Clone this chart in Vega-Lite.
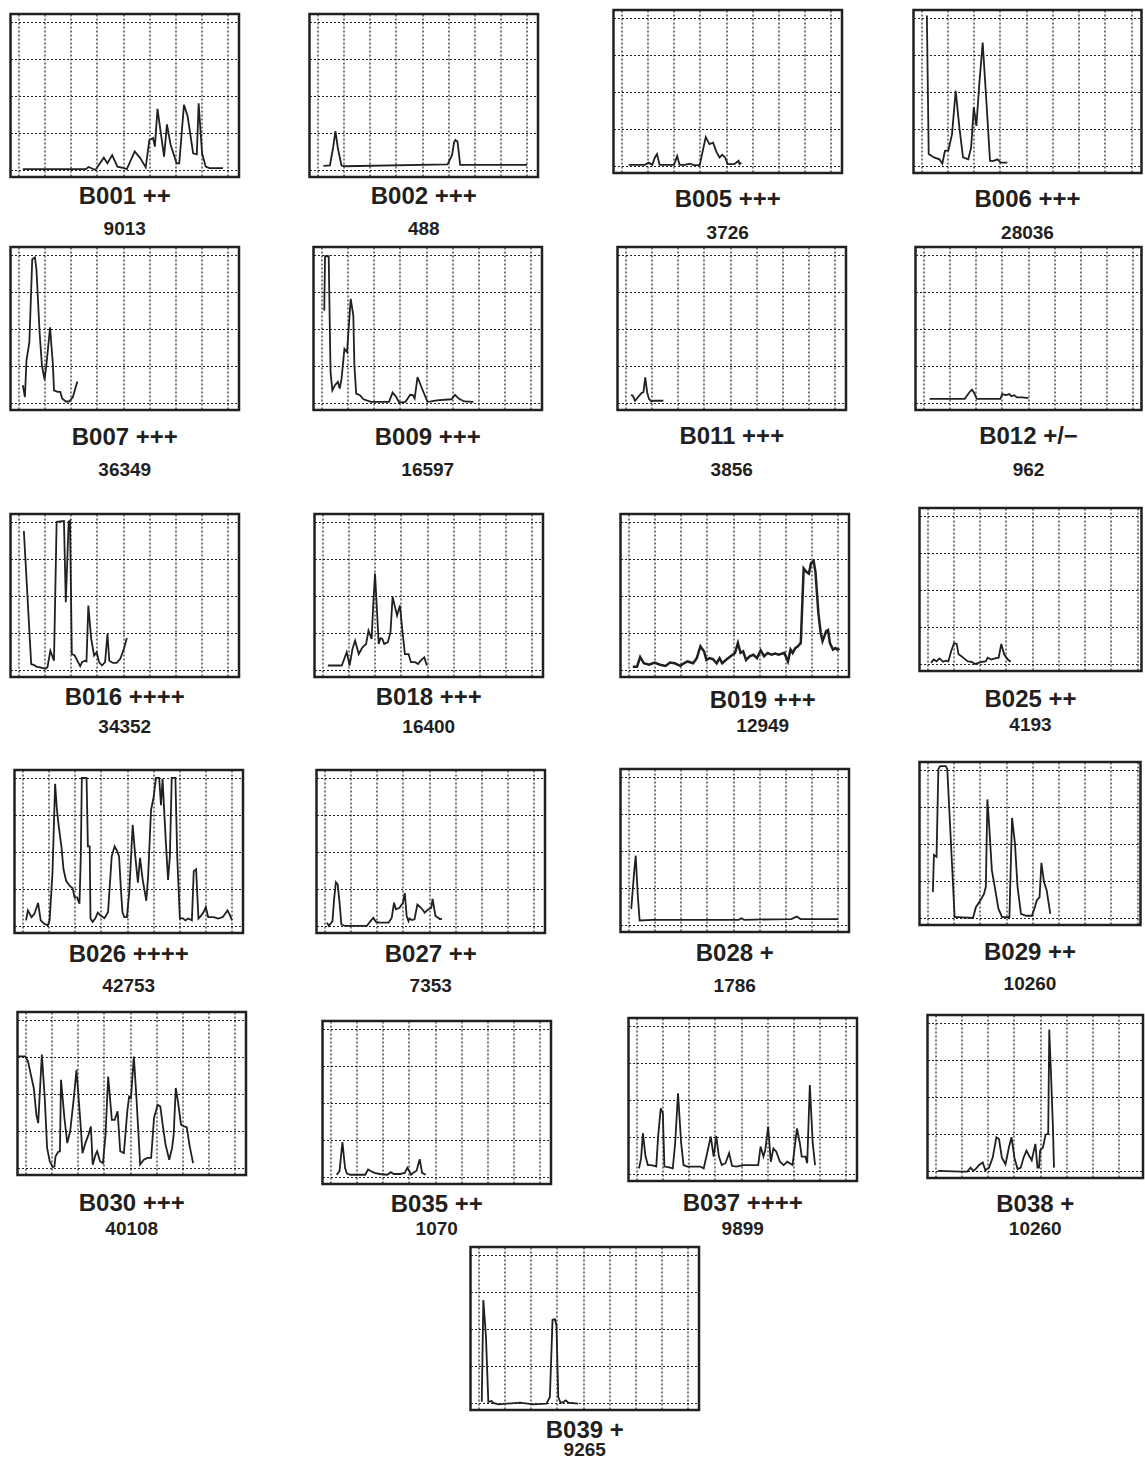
{
"$schema": "https://vega.github.io/schema/vega-lite/v6.json",
"background": "white",
"padding": {"left": 8.5, "top": 8, "right": 0, "bottom": 0},
"config": {
  "view": {"stroke": "#231f20", "strokeWidth": 2.5},
  "axis": {"grid": true, "gridColor": "#231f20", "gridDash": [2, 2], "gridWidth": 1.2, "gridOpacity": 1, "domain": false, "ticks": false, "labels": false, "minExtent": 0, "maxExtent": 0},
  "title": {"orient": "bottom", "anchor": "middle", "font": "Liberation Sans", "fontSize": 24, "fontWeight": "bold", "color": "#231f20", "subtitleFont": "Liberation Sans", "subtitleFontSize": 19, "subtitleFontWeight": "bold", "subtitleColor": "#231f20"},
  "line": {"color": "#231f20", "strokeWidth": 1.8, "clip": true}
},
"data": {"values": [
{"p":"B001","x":0.17,"y":0.02},{"p":"B001","x":2.57,"y":0.02},{"p":"B001","x":2.68,"y":0.08},{"p":"B001","x":2.94,"y":0.0},{"p":"B001","x":3.26,"y":0.33},{"p":"B001","x":3.4,"y":0.18},{"p":"B001","x":3.58,"y":0.4},{"p":"B001","x":3.78,"y":0.09},{"p":"B001","x":4.03,"y":0.05},{"p":"B001","x":4.14,"y":0.02},{"p":"B001","x":4.44,"y":0.5},{"p":"B001","x":4.65,"y":0.32},{"p":"B001","x":4.86,"y":0.07},{"p":"B001","x":5.0,"y":0.81},{"p":"B001","x":5.14,"y":0.86},{"p":"B001","x":5.21,"y":0.63},{"p":"B001","x":5.31,"y":1.65},{"p":"B001","x":5.56,"y":0.36},{"p":"B001","x":5.67,"y":1.23},{"p":"B001","x":5.81,"y":0.68},{"p":"B001","x":6.04,"y":0.18},{"p":"B001","x":6.14,"y":0.18},{"p":"B001","x":6.32,"y":1.76},{"p":"B001","x":6.46,"y":1.45},{"p":"B001","x":6.67,"y":0.45},{"p":"B001","x":6.81,"y":0.42},{"p":"B001","x":6.88,"y":1.8},{"p":"B001","x":7.01,"y":0.45},{"p":"B001","x":7.15,"y":0.09},{"p":"B001","x":7.29,"y":0.05},{"p":"B001","x":7.81,"y":0.05},
{"p":"B002","x":0.23,"y":0.11},{"p":"B002","x":0.48,"y":0.12},{"p":"B002","x":0.6,"y":0.6},{"p":"B002","x":0.69,"y":1.05},{"p":"B002","x":0.78,"y":0.6},{"p":"B002","x":0.92,"y":0.12},{"p":"B002","x":1.03,"y":0.1},{"p":"B002","x":4.97,"y":0.15},{"p":"B002","x":5.14,"y":0.4},{"p":"B002","x":5.22,"y":0.75},{"p":"B002","x":5.27,"y":0.81},{"p":"B002","x":5.35,"y":0.76},{"p":"B002","x":5.45,"y":0.14},{"p":"B002","x":8.0,"y":0.14},
{"p":"B005","x":0.28,"y":0.03},{"p":"B005","x":0.9,"y":0.03},{"p":"B005","x":1.04,"y":0.09},{"p":"B005","x":1.18,"y":0.03},{"p":"B005","x":1.28,"y":0.23},{"p":"B005","x":1.36,"y":0.32},{"p":"B005","x":1.46,"y":0.03},{"p":"B005","x":2.01,"y":0.03},{"p":"B005","x":2.13,"y":0.27},{"p":"B005","x":2.22,"y":0.03},{"p":"B005","x":2.43,"y":0.03},{"p":"B005","x":2.61,"y":0.06},{"p":"B005","x":2.78,"y":0.02},{"p":"B005","x":2.99,"y":0.02},{"p":"B005","x":3.08,"y":0.32},{"p":"B005","x":3.22,"y":0.78},{"p":"B005","x":3.36,"y":0.59},{"p":"B005","x":3.5,"y":0.63},{"p":"B005","x":3.64,"y":0.36},{"p":"B005","x":3.75,"y":0.23},{"p":"B005","x":3.85,"y":0.3},{"p":"B005","x":3.96,"y":0.23},{"p":"B005","x":4.06,"y":0.05},{"p":"B005","x":4.31,"y":0.05},{"p":"B005","x":4.47,"y":0.14},{"p":"B005","x":4.51,"y":0.05},{"p":"B005","x":4.58,"y":0.09},
{"p":"B006","x":0.21,"y":4.06},{"p":"B006","x":0.28,"y":0.32},{"p":"B006","x":0.48,"y":0.23},{"p":"B006","x":0.69,"y":0.18},{"p":"B006","x":0.8,"y":0.06},{"p":"B006","x":0.9,"y":0.41},{"p":"B006","x":1.03,"y":0.42},{"p":"B006","x":1.17,"y":0.86},{"p":"B006","x":1.31,"y":2.03},{"p":"B006","x":1.45,"y":1.04},{"p":"B006","x":1.59,"y":0.23},{"p":"B006","x":1.79,"y":0.18},{"p":"B006","x":1.9,"y":0.5},{"p":"B006","x":2.0,"y":1.58},{"p":"B006","x":2.1,"y":1.08},{"p":"B006","x":2.21,"y":2.21},{"p":"B006","x":2.34,"y":3.33},{"p":"B006","x":2.48,"y":1.76},{"p":"B006","x":2.62,"y":0.14},{"p":"B006","x":2.76,"y":0.14},{"p":"B006","x":2.9,"y":0.18},{"p":"B006","x":3.03,"y":0.09},{"p":"B006","x":3.28,"y":0.09},
{"p":"B007","x":0.17,"y":0.48},{"p":"B007","x":0.25,"y":0.16},{"p":"B007","x":0.31,"y":1.15},{"p":"B007","x":0.42,"y":1.64},{"p":"B007","x":0.53,"y":3.88},{"p":"B007","x":0.63,"y":3.93},{"p":"B007","x":0.69,"y":3.61},{"p":"B007","x":0.81,"y":1.91},{"p":"B007","x":0.9,"y":1.01},{"p":"B007","x":1.0,"y":0.63},{"p":"B007","x":1.08,"y":1.1},{"p":"B007","x":1.21,"y":2.04},{"p":"B007","x":1.32,"y":1.01},{"p":"B007","x":1.36,"y":0.34},{"p":"B007","x":1.5,"y":0.3},{"p":"B007","x":1.6,"y":0.3},{"p":"B007","x":1.67,"y":0.12},{"p":"B007","x":1.81,"y":0.04},{"p":"B007","x":1.94,"y":0.04},{"p":"B007","x":2.08,"y":0.16},{"p":"B007","x":2.25,"y":0.58},
{"p":"B009","x":0.11,"y":2.49},{"p":"B009","x":0.14,"y":3.96},{"p":"B009","x":0.28,"y":3.96},{"p":"B009","x":0.35,"y":0.83},{"p":"B009","x":0.42,"y":0.34},{"p":"B009","x":0.52,"y":0.48},{"p":"B009","x":0.63,"y":0.57},{"p":"B009","x":0.7,"y":0.39},{"p":"B009","x":0.77,"y":0.65},{"p":"B009","x":0.88,"y":1.46},{"p":"B009","x":0.98,"y":1.37},{"p":"B009","x":1.12,"y":2.81},{"p":"B009","x":1.22,"y":2.36},{"p":"B009","x":1.26,"y":1.01},{"p":"B009","x":1.33,"y":0.25},{"p":"B009","x":1.47,"y":0.21},{"p":"B009","x":1.61,"y":0.1},{"p":"B009","x":1.89,"y":0.03},{"p":"B009","x":2.58,"y":0.03},{"p":"B009","x":2.72,"y":0.28},{"p":"B009","x":2.86,"y":0.16},{"p":"B009","x":2.97,"y":0.01},{"p":"B009","x":3.21,"y":0.03},{"p":"B009","x":3.39,"y":0.22},{"p":"B009","x":3.49,"y":0.21},{"p":"B009","x":3.56,"y":0.12},{"p":"B009","x":3.67,"y":0.7},{"p":"B009","x":3.84,"y":0.39},{"p":"B009","x":4.05,"y":0.03},{"p":"B009","x":4.19,"y":0.04},{"p":"B009","x":4.4,"y":0.07},{"p":"B009","x":4.96,"y":0.1},{"p":"B009","x":5.1,"y":0.22},{"p":"B009","x":5.24,"y":0.12},{"p":"B009","x":5.45,"y":0.04},{"p":"B009","x":5.8,"y":0.03},
{"p":"B011","x":0.21,"y":0.21},{"p":"B011","x":0.28,"y":0.2},{"p":"B011","x":0.37,"y":0.06},{"p":"B011","x":0.51,"y":0.18},{"p":"B011","x":0.62,"y":0.27},{"p":"B011","x":0.69,"y":0.29},{"p":"B011","x":0.76,"y":0.69},{"p":"B011","x":0.83,"y":0.29},{"p":"B011","x":0.9,"y":0.11},{"p":"B011","x":0.99,"y":0.04},{"p":"B011","x":1.1,"y":0.06},{"p":"B011","x":1.45,"y":0.06},
{"p":"B012","x":0.24,"y":0.11},{"p":"B012","x":1.58,"y":0.11},{"p":"B012","x":1.76,"y":0.29},{"p":"B012","x":1.86,"y":0.36},{"p":"B012","x":1.94,"y":0.27},{"p":"B012","x":2.04,"y":0.11},{"p":"B012","x":2.94,"y":0.11},{"p":"B012","x":3.01,"y":0.24},{"p":"B012","x":3.15,"y":0.21},{"p":"B012","x":3.29,"y":0.24},{"p":"B012","x":3.36,"y":0.18},{"p":"B012","x":3.47,"y":0.21},{"p":"B012","x":3.57,"y":0.15},{"p":"B012","x":3.78,"y":0.15},{"p":"B012","x":4.01,"y":0.13},
{"p":"B016","x":0.21,"y":3.75},{"p":"B016","x":0.49,"y":0.16},{"p":"B016","x":0.58,"y":0.14},{"p":"B016","x":0.69,"y":0.09},{"p":"B016","x":0.83,"y":0.07},{"p":"B016","x":1.04,"y":0.03},{"p":"B016","x":1.11,"y":0.07},{"p":"B016","x":1.22,"y":0.52},{"p":"B016","x":1.36,"y":0.25},{"p":"B016","x":1.46,"y":4.0},{"p":"B016","x":1.74,"y":4.02},{"p":"B016","x":1.81,"y":1.83},{"p":"B016","x":1.92,"y":4.0},{"p":"B016","x":1.97,"y":4.03},{"p":"B016","x":2.04,"y":0.43},{"p":"B016","x":2.15,"y":0.39},{"p":"B016","x":2.25,"y":0.25},{"p":"B016","x":2.36,"y":0.1},{"p":"B016","x":2.43,"y":0.21},{"p":"B016","x":2.53,"y":0.25},{"p":"B016","x":2.6,"y":0.23},{"p":"B016","x":2.67,"y":1.74},{"p":"B016","x":2.78,"y":0.84},{"p":"B016","x":2.89,"y":0.39},{"p":"B016","x":2.99,"y":0.48},{"p":"B016","x":3.08,"y":0.21},{"p":"B016","x":3.19,"y":0.12},{"p":"B016","x":3.31,"y":0.21},{"p":"B016","x":3.4,"y":0.97},{"p":"B016","x":3.47,"y":0.25},{"p":"B016","x":3.61,"y":0.19},{"p":"B016","x":3.75,"y":0.19},{"p":"B016","x":3.89,"y":0.3},{"p":"B016","x":4.03,"y":0.57},{"p":"B016","x":4.14,"y":0.86},
{"p":"B018","x":0.21,"y":0.12},{"p":"B018","x":0.74,"y":0.12},{"p":"B018","x":0.93,"y":0.48},{"p":"B018","x":1.04,"y":0.12},{"p":"B018","x":1.15,"y":0.57},{"p":"B018","x":1.25,"y":0.79},{"p":"B018","x":1.39,"y":0.43},{"p":"B018","x":1.53,"y":0.61},{"p":"B018","x":1.67,"y":0.7},{"p":"B018","x":1.76,"y":1.06},{"p":"B018","x":1.88,"y":0.84},{"p":"B018","x":1.94,"y":1.74},{"p":"B018","x":2.01,"y":2.6},{"p":"B018","x":2.15,"y":0.7},{"p":"B018","x":2.22,"y":0.86},{"p":"B018","x":2.29,"y":0.84},{"p":"B018","x":2.36,"y":0.7},{"p":"B018","x":2.5,"y":0.75},{"p":"B018","x":2.6,"y":1.02},{"p":"B018","x":2.68,"y":1.97},{"p":"B018","x":2.85,"y":1.47},{"p":"B018","x":2.96,"y":1.74},{"p":"B018","x":3.06,"y":1.02},{"p":"B018","x":3.15,"y":0.43},{"p":"B018","x":3.29,"y":0.43},{"p":"B018","x":3.38,"y":0.21},{"p":"B018","x":3.54,"y":0.21},{"p":"B018","x":3.65,"y":0.16},{"p":"B018","x":3.75,"y":0.25},{"p":"B018","x":3.89,"y":0.34},{"p":"B018","x":3.99,"y":0.12},
{"p":"B019","x":0.17,"y":0.09},{"p":"B019","x":0.33,"y":0.09},{"p":"B019","x":0.45,"y":0.35},{"p":"B019","x":0.59,"y":0.18},{"p":"B019","x":0.79,"y":0.14},{"p":"B019","x":1.0,"y":0.2},{"p":"B019","x":1.21,"y":0.14},{"p":"B019","x":1.42,"y":0.11},{"p":"B019","x":1.59,"y":0.2},{"p":"B019","x":1.77,"y":0.18},{"p":"B019","x":1.98,"y":0.11},{"p":"B019","x":2.12,"y":0.18},{"p":"B019","x":2.26,"y":0.23},{"p":"B019","x":2.47,"y":0.18},{"p":"B019","x":2.61,"y":0.32},{"p":"B019","x":2.75,"y":0.64},{"p":"B019","x":2.89,"y":0.5},{"p":"B019","x":2.98,"y":0.27},{"p":"B019","x":3.09,"y":0.32},{"p":"B019","x":3.23,"y":0.29},{"p":"B019","x":3.37,"y":0.18},{"p":"B019","x":3.48,"y":0.32},{"p":"B019","x":3.58,"y":0.18},{"p":"B019","x":3.72,"y":0.27},{"p":"B019","x":3.9,"y":0.37},{"p":"B019","x":4.07,"y":0.46},{"p":"B019","x":4.18,"y":0.73},{"p":"B019","x":4.28,"y":0.46},{"p":"B019","x":4.38,"y":0.5},{"p":"B019","x":4.49,"y":0.27},{"p":"B019","x":4.63,"y":0.37},{"p":"B019","x":4.77,"y":0.41},{"p":"B019","x":4.91,"y":0.32},{"p":"B019","x":5.05,"y":0.53},{"p":"B019","x":5.18,"y":0.37},{"p":"B019","x":5.32,"y":0.46},{"p":"B019","x":5.46,"y":0.41},{"p":"B019","x":5.6,"y":0.44},{"p":"B019","x":5.74,"y":0.41},{"p":"B019","x":5.95,"y":0.46},{"p":"B019","x":6.09,"y":0.23},{"p":"B019","x":6.19,"y":0.55},{"p":"B019","x":6.27,"y":0.46},{"p":"B019","x":6.37,"y":0.59},{"p":"B019","x":6.47,"y":0.64},{"p":"B019","x":6.58,"y":0.73},{"p":"B019","x":6.69,"y":2.74},{"p":"B019","x":6.79,"y":2.65},{"p":"B019","x":6.89,"y":2.6},{"p":"B019","x":6.97,"y":2.88},{"p":"B019","x":7.07,"y":2.94},{"p":"B019","x":7.14,"y":2.65},{"p":"B019","x":7.25,"y":1.55},{"p":"B019","x":7.34,"y":1.0},{"p":"B019","x":7.41,"y":0.78},{"p":"B019","x":7.55,"y":1.05},{"p":"B019","x":7.62,"y":1.08},{"p":"B019","x":7.69,"y":0.73},{"p":"B019","x":7.81,"y":0.55},{"p":"B019","x":7.9,"y":0.59},{"p":"B019","x":7.97,"y":0.55},{"p":"B019","x":8.06,"y":0.57},
{"p":"B025","x":0.14,"y":0.03},{"p":"B025","x":0.24,"y":0.12},{"p":"B025","x":0.35,"y":0.07},{"p":"B025","x":0.46,"y":0.15},{"p":"B025","x":0.6,"y":0.06},{"p":"B025","x":0.7,"y":0.09},{"p":"B025","x":0.8,"y":0.07},{"p":"B025","x":0.91,"y":0.35},{"p":"B025","x":1.02,"y":0.56},{"p":"B025","x":1.12,"y":0.54},{"p":"B025","x":1.19,"y":0.26},{"p":"B025","x":1.3,"y":0.21},{"p":"B025","x":1.4,"y":0.15},{"p":"B025","x":1.54,"y":0.07},{"p":"B025","x":1.68,"y":0.06},{"p":"B025","x":1.82,"y":0.0},{"p":"B025","x":1.96,"y":0.03},{"p":"B025","x":2.09,"y":0.06},{"p":"B025","x":2.23,"y":0.07},{"p":"B025","x":2.3,"y":0.17},{"p":"B025","x":2.44,"y":0.12},{"p":"B025","x":2.58,"y":0.15},{"p":"B025","x":2.72,"y":0.17},{"p":"B025","x":2.82,"y":0.54},{"p":"B025","x":2.93,"y":0.26},{"p":"B025","x":3.07,"y":0.12},{"p":"B025","x":3.18,"y":0.06},
{"p":"B026","x":0.14,"y":0.15},{"p":"B026","x":0.21,"y":0.42},{"p":"B026","x":0.35,"y":0.24},{"p":"B026","x":0.46,"y":0.33},{"p":"B026","x":0.6,"y":0.62},{"p":"B026","x":0.7,"y":0.15},{"p":"B026","x":0.83,"y":0.06},{"p":"B026","x":0.97,"y":0.02},{"p":"B026","x":1.04,"y":0.15},{"p":"B026","x":1.15,"y":1.44},{"p":"B026","x":1.25,"y":3.84},{"p":"B026","x":1.32,"y":3.13},{"p":"B026","x":1.39,"y":2.68},{"p":"B026","x":1.49,"y":2.15},{"p":"B026","x":1.57,"y":1.53},{"p":"B026","x":1.67,"y":1.22},{"p":"B026","x":1.81,"y":1.08},{"p":"B026","x":1.92,"y":1.02},{"p":"B026","x":1.99,"y":0.77},{"p":"B026","x":2.09,"y":0.77},{"p":"B026","x":2.18,"y":0.6},{"p":"B026","x":2.23,"y":1.88},{"p":"B026","x":2.27,"y":4.0},{"p":"B026","x":2.45,"y":4.0},{"p":"B026","x":2.5,"y":2.15},{"p":"B026","x":2.57,"y":2.15},{"p":"B026","x":2.6,"y":0.2},{"p":"B026","x":2.68,"y":0.11},{"p":"B026","x":2.78,"y":0.2},{"p":"B026","x":2.88,"y":0.36},{"p":"B026","x":2.99,"y":0.28},{"p":"B026","x":3.13,"y":0.21},{"p":"B026","x":3.27,"y":0.37},{"p":"B026","x":3.41,"y":1.88},{"p":"B026","x":3.52,"y":2.15},{"p":"B026","x":3.62,"y":2.02},{"p":"B026","x":3.69,"y":1.88},{"p":"B026","x":3.76,"y":1.0},{"p":"B026","x":3.82,"y":0.37},{"p":"B026","x":3.89,"y":0.24},{"p":"B026","x":3.99,"y":0.24},{"p":"B026","x":4.08,"y":0.91},{"p":"B026","x":4.21,"y":2.73},{"p":"B026","x":4.31,"y":1.88},{"p":"B026","x":4.41,"y":1.17},{"p":"B026","x":4.49,"y":1.84},{"p":"B026","x":4.59,"y":1.26},{"p":"B026","x":4.73,"y":0.68},{"p":"B026","x":4.8,"y":1.35},{"p":"B026","x":4.91,"y":3.13},{"p":"B026","x":5.01,"y":3.48},{"p":"B026","x":5.1,"y":4.0},{"p":"B026","x":5.22,"y":4.0},{"p":"B026","x":5.29,"y":3.26},{"p":"B026","x":5.35,"y":3.97},{"p":"B026","x":5.47,"y":2.33},{"p":"B026","x":5.56,"y":1.24},{"p":"B026","x":5.63,"y":1.88},{"p":"B026","x":5.7,"y":4.0},{"p":"B026","x":5.84,"y":4.0},{"p":"B026","x":5.91,"y":1.88},{"p":"B026","x":6.01,"y":0.2},{"p":"B026","x":6.12,"y":0.21},{"p":"B026","x":6.22,"y":0.15},{"p":"B026","x":6.33,"y":0.2},{"p":"B026","x":6.47,"y":0.15},{"p":"B026","x":6.54,"y":1.48},{"p":"B026","x":6.63,"y":1.53},{"p":"B026","x":6.72,"y":0.2},{"p":"B026","x":6.82,"y":0.28},{"p":"B026","x":6.91,"y":0.37},{"p":"B026","x":7.0,"y":0.51},{"p":"B026","x":7.09,"y":0.24},{"p":"B026","x":7.3,"y":0.24},{"p":"B026","x":7.47,"y":0.2},{"p":"B026","x":7.65,"y":0.24},{"p":"B026","x":7.83,"y":0.42},{"p":"B026","x":7.93,"y":0.28},{"p":"B026","x":8.0,"y":0.15},
{"p":"B027","x":0.1,"y":0.09},{"p":"B027","x":0.17,"y":0.0},{"p":"B027","x":0.31,"y":0.13},{"p":"B027","x":0.37,"y":0.71},{"p":"B027","x":0.44,"y":1.18},{"p":"B027","x":0.51,"y":1.12},{"p":"B027","x":0.58,"y":0.63},{"p":"B027","x":0.65,"y":0.04},{"p":"B027","x":0.79,"y":0.0},{"p":"B027","x":1.0,"y":0.0},{"p":"B027","x":1.62,"y":0.0},{"p":"B027","x":1.76,"y":0.13},{"p":"B027","x":1.87,"y":0.22},{"p":"B027","x":1.97,"y":0.11},{"p":"B027","x":2.11,"y":0.09},{"p":"B027","x":2.45,"y":0.09},{"p":"B027","x":2.57,"y":0.22},{"p":"B027","x":2.66,"y":0.63},{"p":"B027","x":2.73,"y":0.45},{"p":"B027","x":2.87,"y":0.49},{"p":"B027","x":3.0,"y":0.63},{"p":"B027","x":3.07,"y":0.89},{"p":"B027","x":3.14,"y":0.27},{"p":"B027","x":3.21,"y":0.13},{"p":"B027","x":3.25,"y":0.2},{"p":"B027","x":3.34,"y":0.16},{"p":"B027","x":3.44,"y":0.18},{"p":"B027","x":3.55,"y":0.58},{"p":"B027","x":3.69,"y":0.49},{"p":"B027","x":3.83,"y":0.36},{"p":"B027","x":3.97,"y":0.45},{"p":"B027","x":4.08,"y":0.49},{"p":"B027","x":4.13,"y":0.73},{"p":"B027","x":4.24,"y":0.27},{"p":"B027","x":4.34,"y":0.22},{"p":"B027","x":4.41,"y":0.18},{"p":"B027","x":4.49,"y":0.2},
{"p":"B028","x":0.11,"y":0.43},{"p":"B028","x":0.22,"y":1.42},{"p":"B028","x":0.28,"y":1.87},{"p":"B028","x":0.36,"y":0.79},{"p":"B028","x":0.43,"y":0.12},{"p":"B028","x":0.94,"y":0.14},{"p":"B028","x":2.06,"y":0.14},{"p":"B028","x":4.21,"y":0.14},{"p":"B028","x":4.31,"y":0.18},{"p":"B028","x":4.42,"y":0.14},{"p":"B028","x":6.22,"y":0.16},{"p":"B028","x":6.43,"y":0.23},{"p":"B028","x":6.57,"y":0.16},{"p":"B028","x":8.0,"y":0.16},
{"p":"B029","x":0.21,"y":0.7},{"p":"B029","x":0.25,"y":1.7},{"p":"B029","x":0.35,"y":1.65},{"p":"B029","x":0.42,"y":4.02},{"p":"B029","x":0.49,"y":4.1},{"p":"B029","x":0.7,"y":4.1},{"p":"B029","x":0.76,"y":4.02},{"p":"B029","x":1.04,"y":0.02},{"p":"B029","x":1.18,"y":0.02},{"p":"B029","x":1.74,"y":0.0},{"p":"B029","x":1.85,"y":0.29},{"p":"B029","x":2.02,"y":0.47},{"p":"B029","x":2.16,"y":0.65},{"p":"B029","x":2.23,"y":0.84},{"p":"B029","x":2.29,"y":3.2},{"p":"B029","x":2.36,"y":2.47},{"p":"B029","x":2.46,"y":1.29},{"p":"B029","x":2.57,"y":0.84},{"p":"B029","x":2.71,"y":0.25},{"p":"B029","x":2.85,"y":0.02},{"p":"B029","x":3.13,"y":0.02},{"p":"B029","x":3.23,"y":2.7},{"p":"B029","x":3.34,"y":2.02},{"p":"B029","x":3.44,"y":0.84},{"p":"B029","x":3.57,"y":0.11},{"p":"B029","x":3.76,"y":0.06},{"p":"B029","x":3.99,"y":0.06},{"p":"B029","x":4.1,"y":0.29},{"p":"B029","x":4.17,"y":0.47},{"p":"B029","x":4.28,"y":0.56},{"p":"B029","x":4.35,"y":1.49},{"p":"B029","x":4.45,"y":0.97},{"p":"B029","x":4.55,"y":0.75},{"p":"B029","x":4.69,"y":0.11},
{"p":"B030","x":-0.28,"y":3.01},{"p":"B030","x":0.0,"y":3.01},{"p":"B030","x":0.1,"y":2.88},{"p":"B030","x":0.21,"y":2.52},{"p":"B030","x":0.32,"y":2.16},{"p":"B030","x":0.42,"y":1.44},{"p":"B030","x":0.49,"y":1.21},{"p":"B030","x":0.63,"y":3.06},{"p":"B030","x":0.74,"y":1.89},{"p":"B030","x":0.83,"y":0.54},{"p":"B030","x":0.93,"y":0.18},{"p":"B030","x":1.04,"y":0.02},{"p":"B030","x":1.11,"y":0.04},{"p":"B030","x":1.15,"y":0.31},{"p":"B030","x":1.25,"y":0.43},{"p":"B030","x":1.32,"y":0.45},{"p":"B030","x":1.36,"y":2.38},{"p":"B030","x":1.49,"y":1.35},{"p":"B030","x":1.6,"y":0.67},{"p":"B030","x":1.71,"y":0.99},{"p":"B030","x":1.85,"y":1.89},{"p":"B030","x":1.95,"y":2.65},{"p":"B030","x":2.09,"y":1.35},{"p":"B030","x":2.18,"y":0.4},{"p":"B030","x":2.29,"y":0.67},{"p":"B030","x":2.41,"y":0.9},{"p":"B030","x":2.5,"y":1.12},{"p":"B030","x":2.57,"y":0.09},{"p":"B030","x":2.68,"y":0.36},{"p":"B030","x":2.74,"y":0.45},{"p":"B030","x":2.85,"y":0.18},{"p":"B030","x":2.96,"y":0.13},{"p":"B030","x":3.06,"y":0.9},{"p":"B030","x":3.16,"y":2.47},{"p":"B030","x":3.3,"y":1.3},{"p":"B030","x":3.41,"y":1.3},{"p":"B030","x":3.52,"y":1.53},{"p":"B030","x":3.62,"y":0.45},{"p":"B030","x":3.76,"y":0.4},{"p":"B030","x":3.89,"y":1.53},{"p":"B030","x":3.96,"y":1.93},{"p":"B030","x":4.03,"y":1.89},{"p":"B030","x":4.14,"y":3.01},{"p":"B030","x":4.24,"y":1.89},{"p":"B030","x":4.38,"y":0.09},{"p":"B030","x":4.52,"y":0.22},{"p":"B030","x":4.66,"y":0.27},{"p":"B030","x":4.8,"y":0.27},{"p":"B030","x":4.91,"y":1.35},{"p":"B030","x":5.05,"y":1.71},{"p":"B030","x":5.15,"y":1.66},{"p":"B030","x":5.24,"y":1.17},{"p":"B030","x":5.35,"y":0.63},{"p":"B030","x":5.49,"y":0.22},{"p":"B030","x":5.6,"y":0.54},{"p":"B030","x":5.66,"y":0.9},{"p":"B030","x":5.74,"y":2.16},{"p":"B030","x":5.84,"y":1.71},{"p":"B030","x":5.94,"y":1.17},{"p":"B030","x":6.05,"y":1.12},{"p":"B030","x":6.16,"y":1.1},{"p":"B030","x":6.26,"y":0.63},{"p":"B030","x":6.4,"y":0.13},
{"p":"B035","x":0.24,"y":0.06},{"p":"B035","x":0.35,"y":0.16},{"p":"B035","x":0.46,"y":0.94},{"p":"B035","x":0.56,"y":0.25},{"p":"B035","x":0.63,"y":0.09},{"p":"B035","x":0.77,"y":0.06},{"p":"B035","x":1.33,"y":0.06},{"p":"B035","x":1.44,"y":0.2},{"p":"B035","x":1.54,"y":0.16},{"p":"B035","x":1.68,"y":0.11},{"p":"B035","x":1.89,"y":0.08},{"p":"B035","x":2.17,"y":0.06},{"p":"B035","x":2.31,"y":0.13},{"p":"B035","x":2.42,"y":0.08},{"p":"B035","x":2.66,"y":0.08},{"p":"B035","x":2.84,"y":0.11},{"p":"B035","x":2.94,"y":0.25},{"p":"B035","x":3.01,"y":0.16},{"p":"B035","x":3.08,"y":0.06},{"p":"B035","x":3.15,"y":0.11},{"p":"B035","x":3.29,"y":0.17},{"p":"B035","x":3.41,"y":0.48},{"p":"B035","x":3.5,"y":0.11},{"p":"B035","x":3.64,"y":0.06},
{"p":"B037","x":0.1,"y":0.15},{"p":"B037","x":0.18,"y":0.42},{"p":"B037","x":0.25,"y":1.1},{"p":"B037","x":0.35,"y":0.47},{"p":"B037","x":0.44,"y":0.24},{"p":"B037","x":0.55,"y":0.24},{"p":"B037","x":0.69,"y":0.22},{"p":"B037","x":0.76,"y":0.2},{"p":"B037","x":0.83,"y":1.01},{"p":"B037","x":0.93,"y":1.77},{"p":"B037","x":1.01,"y":1.64},{"p":"B037","x":1.07,"y":0.2},{"p":"B037","x":1.25,"y":0.18},{"p":"B037","x":1.39,"y":0.15},{"p":"B037","x":1.48,"y":0.83},{"p":"B037","x":1.59,"y":2.18},{"p":"B037","x":1.71,"y":0.83},{"p":"B037","x":1.8,"y":0.24},{"p":"B037","x":1.94,"y":0.2},{"p":"B037","x":2.15,"y":0.2},{"p":"B037","x":2.43,"y":0.2},{"p":"B037","x":2.57,"y":0.15},{"p":"B037","x":2.7,"y":0.56},{"p":"B037","x":2.84,"y":1.01},{"p":"B037","x":2.95,"y":0.47},{"p":"B037","x":3.05,"y":1.02},{"p":"B037","x":3.15,"y":0.47},{"p":"B037","x":3.26,"y":0.24},{"p":"B037","x":3.4,"y":0.29},{"p":"B037","x":3.54,"y":0.56},{"p":"B037","x":3.65,"y":0.22},{"p":"B037","x":3.81,"y":0.2},{"p":"B037","x":4.09,"y":0.24},{"p":"B037","x":4.37,"y":0.24},{"p":"B037","x":4.65,"y":0.24},{"p":"B037","x":4.74,"y":0.74},{"p":"B037","x":4.85,"y":0.47},{"p":"B037","x":4.92,"y":0.65},{"p":"B037","x":5.03,"y":1.28},{"p":"B037","x":5.13,"y":0.33},{"p":"B037","x":5.23,"y":0.69},{"p":"B037","x":5.34,"y":0.6},{"p":"B037","x":5.48,"y":0.33},{"p":"B037","x":5.62,"y":0.24},{"p":"B037","x":5.76,"y":0.33},{"p":"B037","x":5.96,"y":0.24},{"p":"B037","x":6.03,"y":0.65},{"p":"B037","x":6.13,"y":1.23},{"p":"B037","x":6.24,"y":0.83},{"p":"B037","x":6.31,"y":0.47},{"p":"B037","x":6.45,"y":0.47},{"p":"B037","x":6.52,"y":0.29},{"p":"B037","x":6.62,"y":2.4},{"p":"B037","x":6.73,"y":0.83},{"p":"B037","x":6.82,"y":0.24},
{"p":"B038","x":0.1,"y":0.0},{"p":"B038","x":1.0,"y":-0.02},{"p":"B038","x":1.21,"y":-0.02},{"p":"B038","x":1.35,"y":0.09},{"p":"B038","x":1.45,"y":0.0},{"p":"B038","x":1.56,"y":0.07},{"p":"B038","x":1.67,"y":0.16},{"p":"B038","x":1.81,"y":0.23},{"p":"B038","x":1.91,"y":0.02},{"p":"B038","x":2.05,"y":0.09},{"p":"B038","x":2.19,"y":0.36},{"p":"B038","x":2.33,"y":0.91},{"p":"B038","x":2.43,"y":0.86},{"p":"B038","x":2.54,"y":0.36},{"p":"B038","x":2.68,"y":0.18},{"p":"B038","x":2.81,"y":0.64},{"p":"B038","x":2.91,"y":0.91},{"p":"B038","x":3.02,"y":0.36},{"p":"B038","x":3.14,"y":0.05},{"p":"B038","x":3.26,"y":0.09},{"p":"B038","x":3.37,"y":0.36},{"p":"B038","x":3.48,"y":0.55},{"p":"B038","x":3.58,"y":0.41},{"p":"B038","x":3.68,"y":0.29},{"p":"B038","x":3.82,"y":0.73},{"p":"B038","x":3.9,"y":0.09},{"p":"B038","x":3.96,"y":0.09},{"p":"B038","x":4.0,"y":0.55},{"p":"B038","x":4.11,"y":0.64},{"p":"B038","x":4.21,"y":0.98},{"p":"B038","x":4.31,"y":1.0},{"p":"B038","x":4.35,"y":3.82},{"p":"B038","x":4.42,"y":2.55},{"p":"B038","x":4.49,"y":1.18},{"p":"B038","x":4.53,"y":0.09},
{"p":"B039","x":0.13,"y":0.03},{"p":"B039","x":0.19,"y":2.78},{"p":"B039","x":0.29,"y":1.79},{"p":"B039","x":0.38,"y":0.03},{"p":"B039","x":0.51,"y":0.05},{"p":"B039","x":0.57,"y":0.0},{"p":"B039","x":0.76,"y":-0.04},{"p":"B039","x":1.08,"y":-0.02},{"p":"B039","x":1.59,"y":0.01},{"p":"B039","x":2.1,"y":-0.04},{"p":"B039","x":2.6,"y":-0.02},{"p":"B039","x":2.73,"y":0.16},{"p":"B039","x":2.83,"y":2.24},{"p":"B039","x":2.92,"y":2.26},{"p":"B039","x":2.98,"y":2.1},{"p":"B039","x":3.05,"y":0.16},{"p":"B039","x":3.14,"y":0.0},{"p":"B039","x":3.26,"y":0.03},{"p":"B039","x":3.34,"y":0.07},{"p":"B039","x":3.43,"y":0.01},{"p":"B039","x":3.81,"y":-0.02}
]},
"spacing": 0,
"vconcat": [
 {"spacing": 0, "hconcat": [
  {"spacing": 0, "vconcat": [
   {"width": 1, "height": 2, "mark": "point", "transform": [{"filter": "false"}], "view": {"stroke": null}},
   {"width": 228.5, "height": 163, "title": {"text": "B001 ++", "subtitle": "9013", "offset": 8.3, "subtitlePadding": 10.2},
    "transform": [{"filter": "datum.p === 'B001'"}], "mark": {"type": "line"},
    "encoding": {"x": {"field": "x", "type": "quantitative", "scale": {"domain": [-0.3, 8.42], "nice": false, "zero": false}, "axis": {"values": [0,1,2,3,4,5,6,7,8], "title": null}},
                 "y": {"field": "y", "type": "quantitative", "scale": {"domain": [-0.19, 4.21], "nice": false, "zero": false}, "axis": {"values": [0,1,2,3,4], "title": null}}}}
  ]},
  {"width": 66.5, "height": 1, "mark": "point", "transform": [{"filter": "false"}], "view": {"stroke": null}},
  {"spacing": 0, "vconcat": [
   {"width": 1, "height": 2, "mark": "point", "transform": [{"filter": "false"}], "view": {"stroke": null}},
   {"width": 228.5, "height": 163, "title": {"text": "B002 +++", "subtitle": "488", "offset": 8.3, "subtitlePadding": 10.2},
    "transform": [{"filter": "datum.p === 'B002'"}], "mark": {"type": "line"},
    "encoding": {"x": {"field": "x", "type": "quantitative", "scale": {"domain": [-0.3, 8.42], "nice": false, "zero": false}, "axis": {"values": [0,1,2,3,4,5,6,7,8], "title": null}},
                 "y": {"field": "y", "type": "quantitative", "scale": {"domain": [-0.19, 4.21], "nice": false, "zero": false}, "axis": {"values": [0,1,2,3,4], "title": null}}}}
  ]},
  {"width": 71.8, "height": 1, "mark": "point", "transform": [{"filter": "false"}], "view": {"stroke": null}},
  {"width": 228.5, "height": 163, "title": {"text": "B005 +++", "subtitle": "3726", "offset": 15.3, "subtitlePadding": 11.2},
   "transform": [{"filter": "datum.p === 'B005'"}], "mark": {"type": "line"},
   "encoding": {"x": {"field": "x", "type": "quantitative", "scale": {"domain": [-0.3, 8.42], "nice": false, "zero": false}, "axis": {"values": [0,1,2,3,4,5,6,7,8], "title": null}},
                "y": {"field": "y", "type": "quantitative", "scale": {"domain": [-0.19, 4.21], "nice": false, "zero": false}, "axis": {"values": [0,1,2,3,4], "title": null}}}},
  {"width": 67.1, "height": 1, "mark": "point", "transform": [{"filter": "false"}], "view": {"stroke": null}},
  {"width": 228, "height": 163, "title": {"text": "B006 +++", "subtitle": "28036", "offset": 15.3, "subtitlePadding": 11.2},
   "transform": [{"filter": "datum.p === 'B006'"}], "mark": {"type": "line"},
   "encoding": {"x": {"field": "x", "type": "quantitative", "scale": {"domain": [-0.3, 8.4], "nice": false, "zero": false}, "axis": {"values": [0,1,2,3,4,5,6,7,8], "title": null}},
                "y": {"field": "y", "type": "quantitative", "scale": {"domain": [-0.19, 4.21], "nice": false, "zero": false}, "axis": {"values": [0,1,2,3,4], "title": null}}}}
 ]},
 {"width": 1, "height": 0.5, "mark": "point", "transform": [{"filter": "false"}], "view": {"stroke": null}},
 {"spacing": 0, "hconcat": [
  {"width": 228.5, "height": 163, "title": {"text": "B007 +++", "subtitle": "36349", "offset": 16.3, "subtitlePadding": 10.2},
   "transform": [{"filter": "datum.p === 'B007'"}], "mark": {"type": "line"},
   "encoding": {"x": {"field": "x", "type": "quantitative", "scale": {"domain": [-0.3, 8.42], "nice": false, "zero": false}, "axis": {"values": [0,1,2,3,4,5,6,7,8], "title": null}},
                "y": {"field": "y", "type": "quantitative", "scale": {"domain": [-0.19, 4.21], "nice": false, "zero": false}, "axis": {"values": [0,1,2,3,4], "title": null}}}},
  {"width": 70.9, "height": 1, "mark": "point", "transform": [{"filter": "false"}], "view": {"stroke": null}},
  {"width": 228.5, "height": 163, "title": {"text": "B009 +++", "subtitle": "16597", "offset": 16.3, "subtitlePadding": 10.2},
   "transform": [{"filter": "datum.p === 'B009'"}], "mark": {"type": "line"},
   "encoding": {"x": {"field": "x", "type": "quantitative", "scale": {"domain": [-0.3, 8.42], "nice": false, "zero": false}, "axis": {"values": [0,1,2,3,4,5,6,7,8], "title": null}},
                "y": {"field": "y", "type": "quantitative", "scale": {"domain": [-0.19, 4.21], "nice": false, "zero": false}, "axis": {"values": [0,1,2,3,4], "title": null}}}},
  {"width": 71.1, "height": 1, "mark": "point", "transform": [{"filter": "false"}], "view": {"stroke": null}},
  {"width": 228.5, "height": 163, "title": {"text": "B011 +++", "subtitle": "3856", "offset": 15.3, "subtitlePadding": 11.2},
   "transform": [{"filter": "datum.p === 'B011'"}], "mark": {"type": "line"},
   "encoding": {"x": {"field": "x", "type": "quantitative", "scale": {"domain": [-0.3, 8.42], "nice": false, "zero": false}, "axis": {"values": [0,1,2,3,4,5,6,7,8], "title": null}},
                "y": {"field": "y", "type": "quantitative", "scale": {"domain": [-0.19, 4.21], "nice": false, "zero": false}, "axis": {"values": [0,1,2,3,4], "title": null}}}},
  {"width": 66.0, "height": 1, "mark": "point", "transform": [{"filter": "false"}], "view": {"stroke": null}},
  {"width": 226, "height": 163, "title": {"text": "B012 +/−", "subtitle": "962", "offset": 15.3, "subtitlePadding": 11.2},
   "transform": [{"filter": "datum.p === 'B012'"}], "mark": {"type": "line"},
   "encoding": {"x": {"field": "x", "type": "quantitative", "scale": {"domain": [-0.3, 8.33], "nice": false, "zero": false}, "axis": {"values": [0,1,2,3,4,5,6,7,8], "title": null}},
                "y": {"field": "y", "type": "quantitative", "scale": {"domain": [-0.19, 4.21], "nice": false, "zero": false}, "axis": {"values": [0,1,2,3,4], "title": null}}}}
 ]},
 {"width": 1, "height": 24.65, "mark": "point", "transform": [{"filter": "false"}], "view": {"stroke": null}},
 {"spacing": 0, "hconcat": [
  {"spacing": 0, "vconcat": [
   {"width": 1, "height": 3.3, "mark": "point", "transform": [{"filter": "false"}], "view": {"stroke": null}},
   {"width": 228.5, "height": 163, "title": {"text": "B016 ++++", "subtitle": "34352", "offset": 9.3, "subtitlePadding": 7.2},
    "transform": [{"filter": "datum.p === 'B016'"}], "mark": {"type": "line"},
    "encoding": {"x": {"field": "x", "type": "quantitative", "scale": {"domain": [-0.3, 8.42], "nice": false, "zero": false}, "axis": {"values": [0,1,2,3,4,5,6,7,8], "title": null}},
                 "y": {"field": "y", "type": "quantitative", "scale": {"domain": [-0.19, 4.21], "nice": false, "zero": false}, "axis": {"values": [0,1,2,3,4], "title": null}}}}
  ]},
  {"width": 71.6, "height": 1, "mark": "point", "transform": [{"filter": "false"}], "view": {"stroke": null}},
  {"spacing": 0, "vconcat": [
   {"width": 1, "height": 3.3, "mark": "point", "transform": [{"filter": "false"}], "view": {"stroke": null}},
   {"width": 228.5, "height": 163, "title": {"text": "B018 +++", "subtitle": "16400", "offset": 9.3, "subtitlePadding": 7.2},
    "transform": [{"filter": "datum.p === 'B018'"}], "mark": {"type": "line"},
    "encoding": {"x": {"field": "x", "type": "quantitative", "scale": {"domain": [-0.3, 8.42], "nice": false, "zero": false}, "axis": {"values": [0,1,2,3,4,5,6,7,8], "title": null}},
                 "y": {"field": "y", "type": "quantitative", "scale": {"domain": [-0.19, 4.21], "nice": false, "zero": false}, "axis": {"values": [0,1,2,3,4], "title": null}}}}
  ]},
  {"width": 73.9, "height": 1, "mark": "point", "transform": [{"filter": "false"}], "view": {"stroke": null}},
  {"spacing": 0, "vconcat": [
   {"width": 1, "height": 3.3, "mark": "point", "transform": [{"filter": "false"}], "view": {"stroke": null}},
   {"width": 228.5, "height": 163, "title": {"text": "B019 +++", "subtitle": "12949", "offset": 12.3, "subtitlePadding": 3.2, "dx": 28},
    "transform": [{"filter": "datum.p === 'B019'"}], "mark": {"type": "line", "strokeWidth": 2.5},
    "encoding": {"x": {"field": "x", "type": "quantitative", "scale": {"domain": [-0.3, 8.42], "nice": false, "zero": false}, "axis": {"values": [0,1,2,3,4,5,6,7,8], "title": null}},
                 "y": {"field": "y", "type": "quantitative", "scale": {"domain": [-0.19, 4.21], "nice": false, "zero": false}, "axis": {"values": [0,1,2,3,4], "title": null}}}}
  ]},
  {"width": 66.9, "height": 1, "mark": "point", "transform": [{"filter": "false"}], "view": {"stroke": null}},
  {"width": 222, "height": 163, "title": {"text": "B025 ++", "subtitle": "4193", "offset": 16.6, "subtitlePadding": 4.2},
   "transform": [{"filter": "datum.p === 'B025'"}], "mark": {"type": "line"},
   "encoding": {"x": {"field": "x", "type": "quantitative", "scale": {"domain": [-0.3, 8.17], "nice": false, "zero": false}, "axis": {"values": [0,1,2,3,4,5,6,7,8], "title": null}},
                "y": {"field": "y", "type": "quantitative", "scale": {"domain": [-0.19, 4.21], "nice": false, "zero": false}, "axis": {"values": [0,1,2,3,4], "title": null}}}}
 ]},
 {"width": 1, "height": 21.75, "mark": "point", "transform": [{"filter": "false"}], "view": {"stroke": null}},
 {"spacing": 0, "hconcat": [
  {"width": 2, "height": 1, "mark": "point", "transform": [{"filter": "false"}], "view": {"stroke": null}},
  {"spacing": 0, "vconcat": [
   {"width": 1, "height": 5.7, "mark": "point", "transform": [{"filter": "false"}], "view": {"stroke": null}},
   {"width": 228.5, "height": 163, "title": {"text": "B026 ++++", "subtitle": "42753", "offset": 9.6, "subtitlePadding": 10.2},
    "transform": [{"filter": "datum.p === 'B026'"}], "mark": {"type": "line"},
    "encoding": {"x": {"field": "x", "type": "quantitative", "scale": {"domain": [-0.3, 8.42], "nice": false, "zero": false}, "axis": {"values": [0,1,2,3,4,5,6,7,8], "title": null}},
                 "y": {"field": "y", "type": "quantitative", "scale": {"domain": [-0.19, 4.21], "nice": false, "zero": false}, "axis": {"values": [0,1,2,3,4], "title": null}}}}
  ]},
  {"width": 69.1, "height": 1, "mark": "point", "transform": [{"filter": "false"}], "view": {"stroke": null}},
  {"spacing": 0, "vconcat": [
   {"width": 1, "height": 5.7, "mark": "point", "transform": [{"filter": "false"}], "view": {"stroke": null}},
   {"width": 228.5, "height": 163, "title": {"text": "B027 ++", "subtitle": "7353", "offset": 9.6, "subtitlePadding": 10.2},
    "transform": [{"filter": "datum.p === 'B027'"}], "mark": {"type": "line"},
    "encoding": {"x": {"field": "x", "type": "quantitative", "scale": {"domain": [-0.3, 8.42], "nice": false, "zero": false}, "axis": {"values": [0,1,2,3,4,5,6,7,8], "title": null}},
                 "y": {"field": "y", "type": "quantitative", "scale": {"domain": [-0.19, 4.21], "nice": false, "zero": false}, "axis": {"values": [0,1,2,3,4], "title": null}}}}
  ]},
  {"width": 71.9, "height": 1, "mark": "point", "transform": [{"filter": "false"}], "view": {"stroke": null}},
  {"spacing": 0, "vconcat": [
   {"width": 1, "height": 5.0, "mark": "point", "transform": [{"filter": "false"}], "view": {"stroke": null}},
   {"width": 228.5, "height": 163, "title": {"text": "B028 +", "subtitle": "1786", "offset": 10.3, "subtitlePadding": 10.2},
    "transform": [{"filter": "datum.p === 'B028'"}], "mark": {"type": "line"},
    "encoding": {"x": {"field": "x", "type": "quantitative", "scale": {"domain": [-0.3, 8.42], "nice": false, "zero": false}, "axis": {"values": [0,1,2,3,4,5,6,7,8], "title": null}},
                 "y": {"field": "y", "type": "quantitative", "scale": {"domain": [-0.19, 4.21], "nice": false, "zero": false}, "axis": {"values": [0,1,2,3,4], "title": null}}}}
  ]},
  {"width": 66.9, "height": 1, "mark": "point", "transform": [{"filter": "false"}], "view": {"stroke": null}},
  {"width": 221, "height": 163, "title": {"text": "B029 ++", "subtitle": "10260", "offset": 16.3, "subtitlePadding": 9.2},
   "transform": [{"filter": "datum.p === 'B029'"}], "mark": {"type": "line"},
   "encoding": {"x": {"field": "x", "type": "quantitative", "scale": {"domain": [-0.3, 8.13], "nice": false, "zero": false}, "axis": {"values": [0,1,2,3,4,5,6,7,8], "title": null}},
                "y": {"field": "y", "type": "quantitative", "scale": {"domain": [-0.19, 4.21], "nice": false, "zero": false}, "axis": {"values": [0,1,2,3,4], "title": null}}}}
 ]},
 {"width": 1, "height": 11.25, "mark": "point", "transform": [{"filter": "false"}], "view": {"stroke": null}},
 {"spacing": 0, "hconcat": [
  {"width": 2, "height": 1, "mark": "point", "transform": [{"filter": "false"}], "view": {"stroke": null}},
  {"width": 228.5, "height": 163, "title": {"text": "B030 +++", "subtitle": "40108", "offset": 17.3, "subtitlePadding": 3.2},
   "transform": [{"filter": "datum.p === 'B030'"}], "mark": {"type": "line"},
   "encoding": {"x": {"field": "x", "type": "quantitative", "scale": {"domain": [-0.3, 8.42], "nice": false, "zero": false}, "axis": {"values": [0,1,2,3,4,5,6,7,8], "title": null}},
                "y": {"field": "y", "type": "quantitative", "scale": {"domain": [-0.19, 4.21], "nice": false, "zero": false}, "axis": {"values": [0,1,2,3,4], "title": null}}}},
  {"width": 72.7, "height": 1, "mark": "point", "transform": [{"filter": "false"}], "view": {"stroke": null}},
  {"spacing": 0, "vconcat": [
   {"width": 1, "height": 6.7, "mark": "point", "transform": [{"filter": "false"}], "view": {"stroke": null}},
   {"width": 228.5, "height": 163, "title": {"text": "B035 ++", "subtitle": "1070", "offset": 8.6, "subtitlePadding": 3.2},
    "transform": [{"filter": "datum.p === 'B035'"}], "mark": {"type": "line"},
    "encoding": {"x": {"field": "x", "type": "quantitative", "scale": {"domain": [-0.3, 8.42], "nice": false, "zero": false}, "axis": {"values": [0,1,2,3,4,5,6,7,8], "title": null}},
                 "y": {"field": "y", "type": "quantitative", "scale": {"domain": [-0.19, 4.21], "nice": false, "zero": false}, "axis": {"values": [0,1,2,3,4], "title": null}}}}
  ]},
  {"width": 73.8, "height": 1, "mark": "point", "transform": [{"filter": "false"}], "view": {"stroke": null}},
  {"spacing": 0, "vconcat": [
   {"width": 1, "height": 4.0, "mark": "point", "transform": [{"filter": "false"}], "view": {"stroke": null}},
   {"width": 228.5, "height": 163, "title": {"text": "B037 ++++", "subtitle": "9899", "offset": 11.3, "subtitlePadding": 3.2},
    "transform": [{"filter": "datum.p === 'B037'"}], "mark": {"type": "line"},
    "encoding": {"x": {"field": "x", "type": "quantitative", "scale": {"domain": [-0.3, 8.42], "nice": false, "zero": false}, "axis": {"values": [0,1,2,3,4,5,6,7,8], "title": null}},
                 "y": {"field": "y", "type": "quantitative", "scale": {"domain": [-0.19, 4.21], "nice": false, "zero": false}, "axis": {"values": [0,1,2,3,4], "title": null}}}}
  ]},
  {"width": 66.9, "height": 1, "mark": "point", "transform": [{"filter": "false"}], "view": {"stroke": null}},
  {"spacing": 0, "vconcat": [
   {"width": 1, "height": 0.7, "mark": "point", "transform": [{"filter": "false"}], "view": {"stroke": null}},
   {"width": 215.5, "height": 163, "title": {"text": "B038 +", "subtitle": "10260", "offset": 14.6, "subtitlePadding": 3.2},
    "transform": [{"filter": "datum.p === 'B038'"}], "mark": {"type": "line"},
    "encoding": {"x": {"field": "x", "type": "quantitative", "scale": {"domain": [-0.3, 7.93], "nice": false, "zero": false}, "axis": {"values": [0,1,2,3,4,5,6,7,8], "title": null}},
                 "y": {"field": "y", "type": "quantitative", "scale": {"domain": [-0.19, 4.21], "nice": false, "zero": false}, "axis": {"values": [0,1,2,3,4], "title": null}}}}
  ]}
 ]},
 {"width": 1, "height": 3.15, "mark": "point", "transform": [{"filter": "false"}], "view": {"stroke": null}},
 {"spacing": 0, "hconcat": [
  {"width": 458, "height": 1, "mark": "point", "transform": [{"filter": "false"}], "view": {"stroke": null}},
  {"width": 228.5, "height": 163, "title": {"text": "B039 +", "subtitle": "9265", "offset": 8.9, "subtitlePadding": -1.8},
   "transform": [{"filter": "datum.p === 'B039'"}], "mark": {"type": "line"},
   "encoding": {"x": {"field": "x", "type": "quantitative", "scale": {"domain": [-0.3, 8.42], "nice": false, "zero": false}, "axis": {"values": [0,1,2,3,4,5,6,7,8], "title": null}},
                "y": {"field": "y", "type": "quantitative", "scale": {"domain": [-0.19, 4.21], "nice": false, "zero": false}, "axis": {"values": [0,1,2,3,4], "title": null}}}}
 ]}
]
}
